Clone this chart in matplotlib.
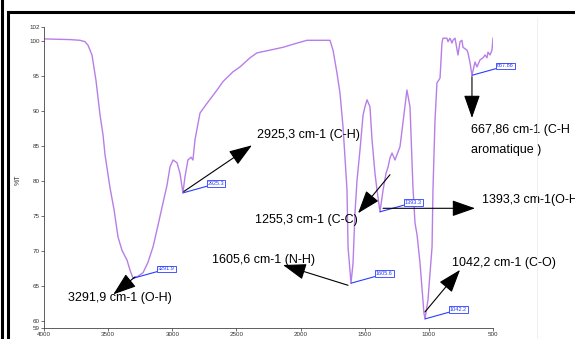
import numpy as np
import matplotlib
matplotlib.use("Agg")
import matplotlib.pyplot as plt
from matplotlib.lines import Line2D

# ---- spectrum (wavenumber cm-1, %T)
wavenumber = [4000, 3797, 3719, 3680, 3657, 3626, 3595, 3563, 3540, 3524, 3486, 3454,
              3423, 3392, 3353, 3330, 3306, 3267, 3228, 3189, 3150, 3111, 3072, 3041,
              3018, 2994, 2963, 2940, 2917, 2901, 2878, 2854, 2839, 2823, 2784, 2753,
              2729, 2651, 2605, 2527, 2472, 2394, 2340, 2238, 2137, 2028, 1950, 1849,
              1771, 1747, 1716, 1693, 1669, 1654, 1638, 1630, 1607, 1591, 1576, 1560,
              1537, 1513, 1498, 1482, 1459, 1443, 1420, 1404, 1381, 1357, 1334, 1318,
              1303, 1287, 1264, 1225, 1202, 1171, 1147, 1124, 1108, 1092, 1069, 1038,
              1030, 1007, 975, 968, 952, 937, 913, 898, 890, 859, 851, 835, 820, 812,
              796, 773, 757, 742, 734, 703, 695, 679, 664, 640, 625, 601, 578, 562,
              547, 539, 523, 508, 500]
transmittance = [100.3, 100.2, 100.1, 99.9, 99.4, 98.0, 94.4, 89.4, 86.6, 83.7, 79.1, 75.9,
                 72.0, 70.1, 68.7, 67.3, 66.1, 66.4, 66.9, 68.4, 70.6, 73.7, 76.9, 79.4,
                 82.0, 83.0, 82.6, 81.1, 78.3, 80.6, 83.0, 83.4, 83.0, 85.9, 89.7, 90.5,
                 91.1, 93.0, 94.2, 95.6, 96.3, 97.6, 98.3, 98.7, 99.1, 99.7, 100.1, 100.1,
                 100.1, 98.7, 95.4, 92.6, 87.7, 83.4, 78.7, 70.6, 65.4, 68.3, 75.4, 80.1,
                 84.4, 89.4, 90.6, 91.6, 90.6, 85.9, 81.1, 78.7, 75.6, 78.7, 81.1, 82.0,
                 83.3, 84.0, 83.0, 84.9, 88.3, 93.0, 90.6, 79.1, 74.0, 72.3, 68.3, 61.1,
                 60.3, 63.0, 70.6, 78.7, 88.7, 94.0, 94.7, 99.7, 100.4, 100.4, 99.9, 100.4, 99.7, 100.1,
                 100.4, 98.0, 99.9, 100.1, 99.1, 98.7, 98.3, 96.9, 95.1, 97.0, 96.3, 97.3, 97.6, 98.0,
                 97.6, 98.4, 98.0, 98.7, 100.4]

# peaks picked by the software (tiny blue labels)
peak_wn = [3306, 2917, 1607, 1381, 1030, 664]
peak_labels = ["3291.9", "2925.3", "1605.6", "1393.3", "1042.2", "667.86"]

yticks = [59, 60, 65, 70, 75, 80, 85, 90, 95, 100, 102]
xticks = [4000, 3500, 3000, 2500, 2000, 1500, 1000, 500]

W, H = 575, 339
fig = plt.figure(figsize=(W / 100, H / 100), dpi=100)
plt.rcParams['font.family'] = ['Liberation Sans', 'DejaVu Sans']

# outer black frame (screenshot border)
def px(x, y):
    return x / W, 1 - y / H

for (x0, y0), (x1, y1) in [((8, 12), (W + 5, 12)), ((8, 12), (8, H + 5)), ((1.5, 0), (1.5, H))]:
    a, b = px(x0, y0)
    c, d = px(x1, y1)
    fig.add_artist(Line2D([a, c], [b, d], color="black", lw=2.2))
a, b = px(537, 18)
c, d = px(537, H)
fig.add_artist(Line2D([a, c], [b, d], color="#eeeeee", lw=0.6))

ax = fig.add_axes([44 / W, 1 - 328 / H, (493 - 44) / W, (328 - 27) / H])
ax.plot(wavenumber, transmittance, color="#b87ee8", lw=1.0)
ax.set_xlim(4000, 500)
ax.set_ylim(59, 102)
ax.set_xticks(xticks)
ax.set_yticks(yticks)
ax.tick_params(labelsize=4.5, length=2, width=0.5, pad=1, colors="#333333")
for s in ["top", "right"]:
    ax.spines[s].set_visible(False)
for s in ["left", "bottom"]:
    ax.spines[s].set_linewidth(0.6)
    ax.spines[s].set_color("#444444")
fig.text(18 / W, 1 - 180 / H, "%T", rotation=90, fontsize=5, ha="center", va="center",
         color="#333333")

# blue peak tags
for wn, lab in zip(peak_wn, peak_labels):
    t = np.interp(wn, wavenumber[::-1], transmittance[::-1])
    ax.annotate(lab, xy=(wn, t), xytext=(18, 5), textcoords="offset points",
                fontsize=4, color="#2a3cff", va="bottom", ha="left",
                bbox=dict(boxstyle="square,pad=0.15", fc="white", ec="#2a3cff", lw=0.6),
                arrowprops=dict(arrowstyle="-", color="#2a3cff", lw=0.8,
                                shrinkA=0, shrinkB=0, relpos=(0, 0)),
                annotation_clip=False)

# black arrows: (start, tip) in data coords
arrows = [((3290, 66.3), (3460, 63.8)),
          ((2910, 78.5), (2379, 85.1)),
          ((1303, 80.9), (1552, 75.4)),
          ((1357, 76.1), (640, 76.1)),
          ((1630, 65.1), (2137, 68.0)),
          ((1030, 61.3), (757, 67.3)),
          ((664, 94.9), (664, 89.0))]
for start, tip in arrows:
    ax.annotate("", xy=tip, xytext=start,
                arrowprops=dict(arrowstyle="-|>,head_length=1.2,head_width=0.42",
                                color="black", lw=0.8, shrinkA=0, shrinkB=0,
                                mutation_scale=12),
                annotation_clip=False)

texts = [(3408, 63.3, "3291,9 cm-1 (O-H)", "center"),
         (2340, 86.6, "2925,3 cm-1 (C-H)", "left"),
         (2355, 74.4, "1255,3 cm-1 (C-C)", "left"),
         (586, 77.3, "1393,3 cm-1(O-H)", "left"),
         (2690, 68.7, "1605,6 cm-1 (N-H)", "left"),
         (820, 68.3, "1042,2 cm-1 (C-O)", "left"),
         (672, 87.3, "667,86 cm-1 (C-H", "left"),
         (672, 84.4, "aromatique )", "left")]
for x, y, s, ha in texts:
    ax.text(x, y, s, fontsize=9, ha=ha, va="center", color="black", clip_on=False)

fig.savefig("out.png", dpi=100)
